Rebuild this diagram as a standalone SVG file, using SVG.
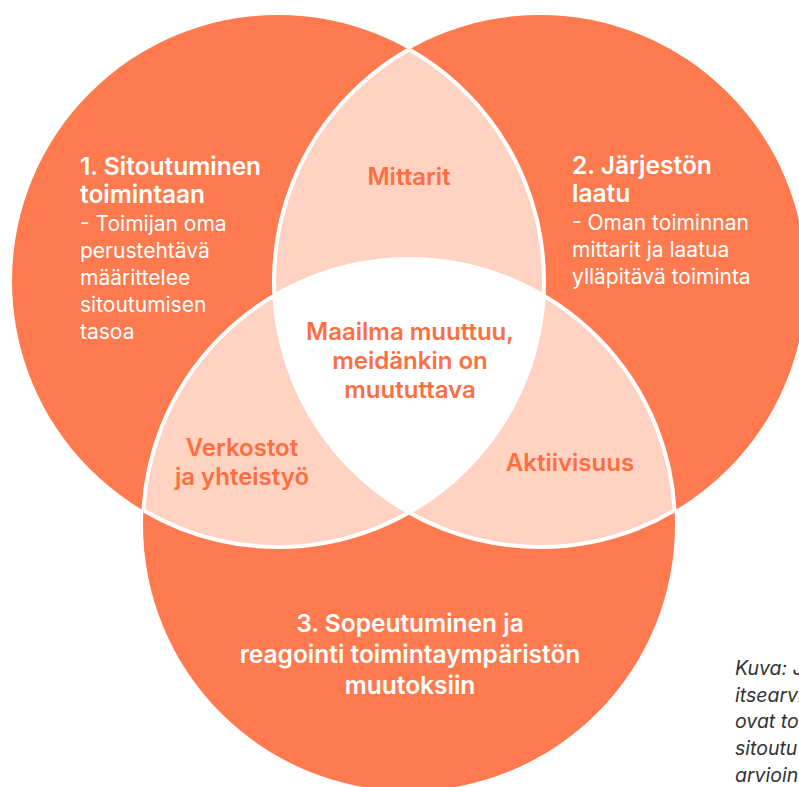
<svg xmlns="http://www.w3.org/2000/svg" width="799" height="787" viewBox="0 0 799 787">
<style>
.org{fill:#FF7A4E}
.lt{fill:#FFD2C2}
.ln{fill:none;stroke:#FFFFFF;stroke-width:4}
.h{font-family:Inter,"Liberation Sans",sans-serif;font-weight:600;font-size:24.5px;fill:#FFFFFF}
.b{font-family:Inter,"Liberation Sans",sans-serif;font-weight:400;font-size:21px;fill:#FFFFFF}
.o{font-family:Inter,"Liberation Sans",sans-serif;font-weight:600;font-size:24px;fill:#FF6E40;text-anchor:middle}
.c{font-family:Inter,"Liberation Sans",sans-serif;font-style:italic;font-size:19.5px;fill:#333333}
</style>
<defs>
<clipPath id="cA"><circle cx="278" cy="281" r="266"/></clipPath>
<clipPath id="cB"><circle cx="540" cy="281" r="266"/></clipPath>
<clipPath id="cC"><circle cx="409" cy="525" r="266"/></clipPath>
<clipPath id="cBC"><circle cx="540" cy="281" r="266"/><circle cx="409" cy="525" r="266"/></clipPath>
<clipPath id="cAC"><circle cx="278" cy="281" r="266"/><circle cx="409" cy="525" r="266"/></clipPath>
<clipPath id="cAB"><circle cx="278" cy="281" r="266"/><circle cx="540" cy="281" r="266"/></clipPath>
</defs>
<g id="circle-1"><circle class="org" cx="278" cy="281" r="266"/></g>
<g id="circle-2"><circle class="org" cx="540" cy="281" r="266"/></g>
<g id="circle-3"><circle class="org" cx="409" cy="525" r="266"/></g>
<g id="lens-mittarit"><circle class="lt" cx="540" cy="281" r="266" clip-path="url(#cA)"/></g>
<g id="lens-verkostot"><circle class="lt" cx="409" cy="525" r="266" clip-path="url(#cA)"/></g>
<g id="lens-aktiivisuus"><circle class="lt" cx="409" cy="525" r="266" clip-path="url(#cB)"/></g>
<g id="center"><g clip-path="url(#cA)"><circle fill="#FFFFFF" cx="409" cy="525" r="266" clip-path="url(#cB)"/></g></g>
<g id="connectors">
<circle class="ln" cx="278" cy="281" r="266" clip-path="url(#cBC)"/>
<circle class="ln" cx="540" cy="281" r="266" clip-path="url(#cAC)"/>
<circle class="ln" cx="409" cy="525" r="266" clip-path="url(#cAB)"/>
</g>
<g id="text-1">
<text class="h" x="80" y="175">1. Sitoutuminen</text>
<text class="h" x="80" y="203">toimintaan</text>
<text class="b" x="80" y="231">- Toimijan oma</text>
<text class="b" x="80" y="258">perustehtävä</text>
<text class="b" x="80" y="285">määrittelee</text>
<text class="b" x="80" y="312">sitoutumisen</text>
<text class="b" x="80" y="339">tasoa</text>
</g>
<g id="text-2">
<text class="h" x="572" y="174">2. Järjestön</text>
<text class="h" x="572" y="202">laatu</text>
<text class="b" x="572" y="230">- Oman toiminnan</text>
<text class="b" x="572" y="257">mittarit ja laatua</text>
<text class="b" x="572" y="284">ylläpitävä toiminta</text>
</g>
<g id="text-3">
<text class="h" x="410" y="632" text-anchor="middle">3. Sopeutuminen ja</text>
<text class="h" x="410" y="663" text-anchor="middle">reagointi toimintaympäristön</text>
<text class="h" x="410" y="694" text-anchor="middle">muutoksiin</text>
</g>
<g id="text-mittarit"><text class="o" x="409" y="185">Mittarit</text></g>
<g id="text-center">
<text class="o" x="410" y="340">Maailma muuttuu,</text>
<text class="o" x="410" y="369">meidänkin on</text>
<text class="o" x="410" y="398">muututtava</text>
</g>
<g id="text-verkostot">
<text class="o" x="242" y="456">Verkostot</text>
<text class="o" x="242" y="485">ja yhteistyö</text>
</g>
<g id="text-aktiivisuus"><text class="o" x="570" y="471">Aktiivisuus</text></g>
<g id="caption">
<text class="c" x="735" y="675">Kuva: J</text>
<text class="c" x="735" y="702">itsearvi</text>
<text class="c" x="735" y="728">ovat to</text>
<text class="c" x="735" y="755">sitoutu</text>
<text class="c" x="735" y="782">arvioin</text>
</g>
</svg>
